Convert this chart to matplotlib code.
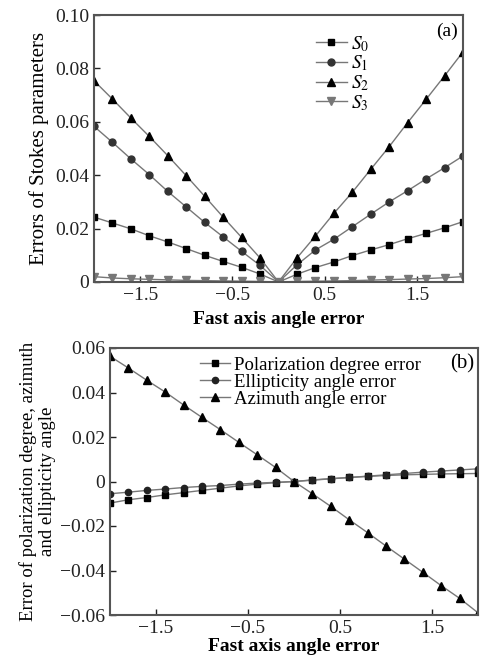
import numpy as np
import matplotlib
matplotlib.use("Agg")
import matplotlib.pyplot as plt

plt.rcParams['font.family'] = ['Liberation Serif', 'DejaVu Serif']
plt.rcParams['mathtext.fontset'] = 'stix'

x = [-2.0, -1.8, -1.6, -1.4, -1.2, -1.0, -0.8, -0.6, -0.4, -0.2, 0.0,
     0.2, 0.4, 0.6, 0.8, 1.0, 1.2, 1.4, 1.6, 1.8, 2.0]

s0 = [0.0243, 0.0221, 0.0199, 0.0173, 0.0150, 0.0125, 0.0100, 0.0077, 0.0055, 0.0030, 0.0,
      0.0029, 0.0054, 0.0075, 0.0099, 0.0120, 0.0140, 0.0162, 0.0182, 0.0203, 0.0226]
s1 = [0.0583, 0.0523, 0.0461, 0.0402, 0.0339, 0.0281, 0.0223, 0.0169, 0.0115, 0.0062, 0.0,
      0.0064, 0.0120, 0.0160, 0.0207, 0.0254, 0.0300, 0.0342, 0.0386, 0.0428, 0.0472]
s2 = [0.0754, 0.0685, 0.0614, 0.0545, 0.0473, 0.0398, 0.0321, 0.0243, 0.0167, 0.0090, 0.0,
      0.0090, 0.0172, 0.0257, 0.0336, 0.0422, 0.0507, 0.0597, 0.0684, 0.0772, 0.0862]
s3 = [0.0020, 0.0015, 0.0012, 0.0010, 0.0008, 0.0006, 0.0005, 0.0004, 0.0003, 0.0002, 0.0,
      0.0002, 0.0003, 0.0004, 0.0005, 0.0007, 0.0009, 0.0011, 0.0013, 0.0016, 0.0020]

pol = [-0.0097, -0.0082, -0.0072, -0.0060, -0.0050, -0.0040, -0.0030, -0.0020, -0.0012, -0.0005, 0.0,
       0.0007, 0.0013, 0.0018, 0.0023, 0.0027, 0.0030, 0.0032, 0.0034, 0.0035, 0.0036]
ell = [-0.0055, -0.0048, -0.0040, -0.0034, -0.0027, -0.0022, -0.0018, -0.0012, -0.0007, -0.0004, 0.0,
       0.0006, 0.0012, 0.0018, 0.0024, 0.0030, 0.0036, 0.0042, 0.0047, 0.0052, 0.0057]
azi = [0.0563, 0.0510, 0.0455, 0.0402, 0.0344, 0.0288, 0.0233, 0.0176, 0.0120, 0.0063, 0.0,
       -0.0055, -0.0112, -0.0172, -0.0230, -0.0290, -0.0349, -0.0408, -0.0468, -0.0525, -0.0590]

xticks = [-1.5, -0.5, 0.5, 1.5]
xticklabels = ['\u22121.5', '\u22120.5', '0.5', '1.5']
yticks_a = [0, 0.02, 0.04, 0.06, 0.08, 0.10]
yticklabels_a = ['0', '0.02', '0.04', '0.06', '0.08', '0.10']
yticks_b = [-0.06, -0.04, -0.02, 0, 0.02, 0.04, 0.06]
yticklabels_b = ['\u22120.06', '\u22120.04', '\u22120.02', '0', '0.02', '0.04', '0.06']

W, H = 481, 660
fig = plt.figure(figsize=(W / 100, H / 100), dpi=100)

def ax_rect(l, t, r, b):
    return [l / W, 1 - b / H, (r - l) / W, (b - t) / H]

ax1 = fig.add_axes(ax_rect(94, 15, 463, 282))
ax2 = fig.add_axes(ax_rect(110, 348, 478, 615))

lc = '#777777'
lw = 1.0
ax1.plot(x, s0, '-', color=lc, lw=lw, marker='s', ms=4.5, mfc='black', mec='black', label=r'$S_0$')
ax1.plot(x, s1, '-', color=lc, lw=lw, marker='o', ms=5, mfc='#333333', mec='#333333', label=r'$S_1$')
ax1.plot(x, s2, '-', color=lc, lw=lw, marker='^', ms=6, mfc='black', mec='black', label=r'$S_2$')
ax1.plot(x, s3, '-', color=lc, lw=lw, marker='v', ms=5.5, mfc='#777777', mec='#777777', label=r'$S_3$')

ax2.plot(x, pol, '-', color=lc, lw=lw, marker='s', ms=4.5, mfc='black', mec='black', label='Polarization degree error')
ax2.plot(x, ell, '-', color=lc, lw=lw, marker='o', ms=4.5, mfc='#222222', mec='#222222', label='Ellipticity angle error')
ax2.plot(x, azi, '-', color=lc, lw=lw, marker='^', ms=6, mfc='black', mec='black', label='Azimuth angle error')

for ax in (ax1, ax2):
    ax.set_xlim(-2, 2)
    ax.set_xticks(xticks)
    ax.set_xticklabels(xticklabels)
    ax.tick_params(direction='in', length=4, width=1, labelsize=14, top=False, right=False, colors='#222222')
    for sp in ax.spines.values():
        sp.set_linewidth(1.5)
        sp.set_color('#555555')

ax1.set_ylim(0, 0.10)
ax1.set_yticks(yticks_a)
ax1.set_yticklabels(yticklabels_a)
ax2.set_ylim(-0.06, 0.06)
ax2.set_yticks(yticks_b)
ax2.set_yticklabels(yticklabels_b)

ax1.set_xlabel('Fast axis angle error', fontsize=14, fontweight='bold', labelpad=5)
ax2.set_xlabel('Fast axis angle error', fontsize=14, fontweight='bold', labelpad=1)
ax1.set_ylabel('Errors of Stokes parameters', fontsize=15, labelpad=4)
ax2.set_ylabel('Error of polarization degree, azimuth\nand ellipticity angle', fontsize=13.5, labelpad=3, linespacing=1.15)

ax1.text(0.985, 0.97, '(a)', transform=ax1.transAxes, ha='right', va='top', fontsize=14)
ax2.text(0.99, 0.975, '(b)', transform=ax2.transAxes, ha='right', va='top', fontsize=15)

ax1.legend(loc='upper left', bbox_to_anchor=(0.575, 0.965), frameon=False, fontsize=14,
           handlelength=1.6, handletextpad=0.2, labelspacing=0.0, borderpad=0)
ax2.legend(loc='upper left', bbox_to_anchor=(0.215, 1.01), frameon=False, fontsize=13.5,
           handlelength=1.6, handletextpad=0.2, labelspacing=0.0, borderpad=0.1)

fig.savefig('out.png', dpi=100)
